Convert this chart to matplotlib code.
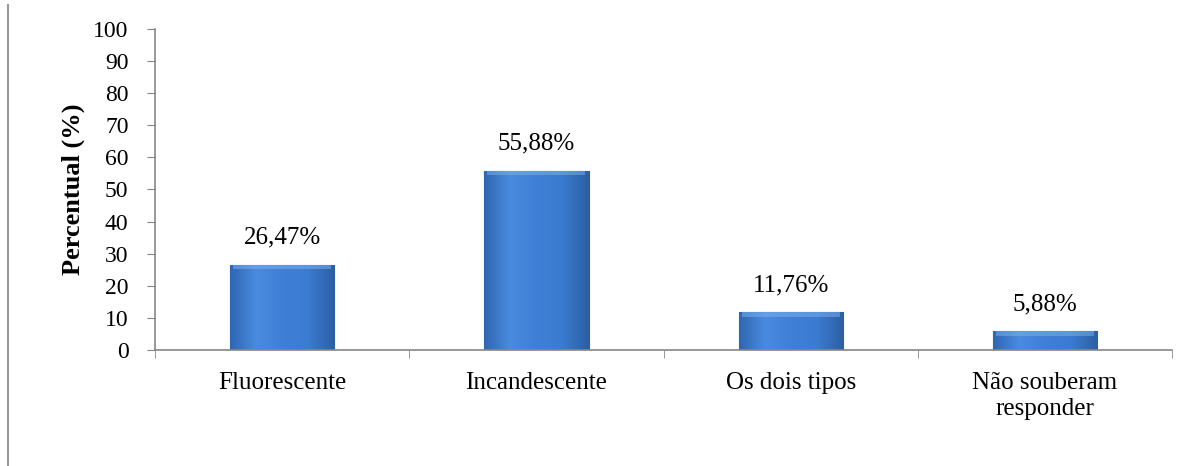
import matplotlib
matplotlib.use("Agg")
import matplotlib.pyplot as plt
import numpy as np
from matplotlib.colors import LinearSegmentedColormap

categories = ["Fluorescente", "Incandescente", "Os dois tipos", "Não souberam\nresponder"]
values = [26.47, 55.88, 11.76, 5.88]
labels = ["26,47%", "55,88%", "11,76%", "5,88%"]
yticks = list(range(0, 101, 10))

plt.rcParams['font.family'] = ['Liberation Serif', 'DejaVu Serif']

fig = plt.figure(figsize=(12.01, 4.66), dpi=100)
ax = fig.add_axes([0.129, 0.249, 0.847, 0.689])

x = np.arange(len(categories))
bars = ax.bar(x, values, width=0.41, color="#3D7DD3", edgecolor="#2E5F9C", linewidth=0.8, zorder=2)

cmap = LinearSegmentedColormap.from_list("bv", ["#2F66B0", "#4A8BE0", "#3F80D6", "#3B7BD0", "#2C5FA3"])
grad = np.linspace(0, 1, 256).reshape(1, -1)
for b in bars:
    bx, by = b.get_x(), b.get_y()
    w, h = b.get_width(), b.get_height()
    im = ax.imshow(grad, cmap=cmap, extent=[bx, bx + w, by, by + h], aspect="auto", zorder=2.1)
    im.set_clip_path(b)
    hs = min(1.4, h * 0.3)
    ax.bar(bx + w / 2, hs, bottom=by + h - hs, width=w * 0.94,
           color="#7DB2F0", alpha=0.5, linewidth=0, zorder=2.2)

for xi, v, lab in zip(x, values, labels):
    ax.text(xi, v + 5, lab, ha="center", va="bottom", fontsize=18, color="#000000")

ax.set_xlim(-0.5, len(categories) - 0.5)
ax.set_ylim(0, 100)
ax.set_yticks(yticks)
ax.set_yticklabels([str(t) for t in yticks], fontsize=17)
ax.set_xticks(x)
ax.set_xticklabels(categories, fontsize=18, linespacing=1.25)
ax.tick_params(axis="x", length=0, pad=16)
ax.tick_params(axis="y", length=6, color="#868686", pad=13)
ax.set_xticks(np.arange(-0.5, len(categories), 1.0), minor=True)
ax.tick_params(axis="x", which="minor", length=6, color="#868686", direction="out")

ax.set_ylabel("Percentual (%)", fontsize=19, fontweight="bold", labelpad=6)

for s in ["top", "right"]:
    ax.spines[s].set_visible(False)
for s in ["left", "bottom"]:
    ax.spines[s].set_color("#868686")
    ax.spines[s].set_linewidth(1.2)

fig.add_artist(plt.Line2D([8 / 1201, 8 / 1201], [0, 1 - 5 / 466], transform=fig.transFigure,
                          color="#9a9a9a", linewidth=1.5))

fig.savefig("out.png", dpi=100)
